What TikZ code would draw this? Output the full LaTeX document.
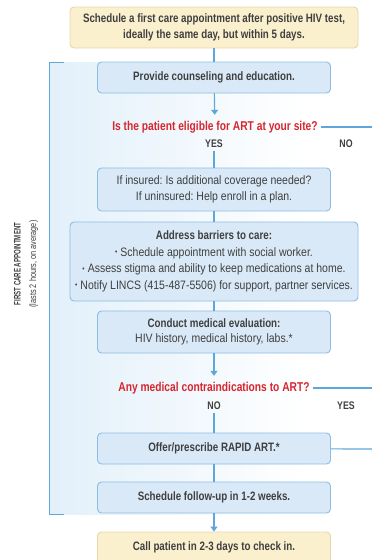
\documentclass[tikz,border=0pt]{standalone}
\usepackage{fontspec}
\setmainfont[FakeStretch=0.86, BoldFeatures={FakeStretch=0.8}]{Liberation Sans}
\newfontfamily\sidefont[FakeStretch=0.77, BoldFeatures={FakeStretch=0.64}]{Liberation Sans}
\usetikzlibrary{arrows.meta}

\definecolor{ink}{HTML}{3F3F3F}
\definecolor{alert}{HTML}{D7262E}
\definecolor{flow}{HTML}{5FA6DA}
\definecolor{boxfill}{HTML}{DAE9F7}
\definecolor{boxline}{HTML}{8DBDE4}
\definecolor{notefill}{HTML}{FBF0CE}
\definecolor{noteline}{HTML}{E6D6A8}
\definecolor{panel}{HTML}{E2F0FA}

% small list bullet
\newcommand{\dotitem}{\raisebox{0.22ex}{\scalebox{0.62}{•}}\hspace{0.25em}}

\tikzset{
  stepbox/.style={draw=boxline, fill=boxfill, line width=0.9pt, rounded corners=4pt,
    text=ink, align=center, minimum width=233pt, inner sep=0pt,
    font=\fontsize{12.2}{15.5}\selectfont\frenchspacing},
  widebox/.style={stepbox, minimum width=288pt},
  notebox/.style={stepbox, draw=noteline, fill=notefill},
  question/.style={text=alert, inner sep=3pt, font=\fontsize{12.8}{14}\selectfont\bfseries},
  answer/.style={text=ink, inner sep=3pt, font=\fontsize{11}{12}\selectfont\bfseries},
  link/.style={draw=flow, line width=1.2pt},
  arrowlink/.style={link, -{Triangle[width=7pt,length=5pt]}},
}

\begin{document}
\begin{tikzpicture}[x=1pt, y=-1pt]
\useasboundingbox (0,0) rectangle (372,560);
\clip (0,0) rectangle (372,560);

% shaded panel behind the first-appointment steps
\shade[left color=panel, right color=white] (49,62) rectangle (305,514);
\draw[flow, line width=1pt] (64,62) -- (49,62) -- (49,514) -- (64,514);

% side label
\node[rotate=90, text=ink, align=center, font=\sidefont\fontsize{9.5}{15.5}\selectfont]
  (phase) at (26,264)
  {{\bfseries FIRST CARE APPOINTMENT}\\(lasts 2 hours, on average)};

% steps
\node[notebox, minimum width=288pt, minimum height=41pt] (start) at (214,27.5)
  {\bfseries Schedule a first care appointment after positive HIV test,\\\bfseries ideally the same day, but within 5 days.};
\node[stepbox, minimum height=31pt] (counsel) at (214,77.5)
  {\bfseries Provide counseling and education.};
\node[question] (eligible) at (215,127) {Is the patient eligible for ART at your site?};
\node[answer] (yes1) at (214,144) {YES};
\node[answer] (no1) at (346,144) {NO};
\node[stepbox, minimum height=43pt] (insure) at (214,189.5)
  {If insured: Is additional coverage needed?\\If uninsured: Help enroll in a plan.};
\node[widebox, minimum height=79pt, font=\fontsize{12.2}{16.5}\selectfont\frenchspacing] (barriers) at (214,261.5)
  {\bfseries Address barriers to care:\\
   \dotitem Schedule appointment with social worker.\\
   \dotitem Assess stigma and ability to keep medications at home.\\
   \dotitem Notify LINCS (415-487-5506) for support, partner services.};
\node[stepbox, minimum height=42pt] (evaluate) at (214,332)
  {\bfseries Conduct medical evaluation:\\HIV history, medical history, labs.*};
\node[question] (contra) at (214,388) {Any medical contraindications to ART?};
\node[answer] (no2) at (214,406) {NO};
\node[answer] (yes2) at (346,406) {YES};
\node[stepbox, minimum height=31pt] (rapid) at (214,448.5)
  {\bfseries Offer/prescribe RAPID ART.*};
\node[stepbox, minimum height=31pt] (followup) at (214,497.5)
  {\bfseries Schedule follow-up in 1-2 weeks.};
\node[notebox, minimum height=31pt] (callback) at (214,547.5)
  {\bfseries Call patient in 2-3 days to check in.};

% off-page ends of the side branches
\coordinate (exit1) at (377,127);
\coordinate (exit2) at (377,388);
\coordinate (exit3) at (377,449);

% connectors
\draw[link] (start) -- (counsel);
\draw[arrowlink, shorten >=3pt] (counsel) -- (eligible);
\draw[arrowlink] (eligible) -- (exit1);
\draw[link] (yes1) -- (insure);
\draw[link] (insure) -- (barriers);
\draw[link] (barriers) -- (evaluate);
\draw[arrowlink, shorten >=3pt] (evaluate) -- (contra);
\draw[arrowlink] (contra) -- (exit2);
\draw[link] (no2) -- (rapid);
\draw[arrowlink] (rapid) -- (exit3);
\draw[link] (rapid) -- (followup);
\draw[arrowlink] (followup) -- (callback);
\end{tikzpicture}
\end{document}
